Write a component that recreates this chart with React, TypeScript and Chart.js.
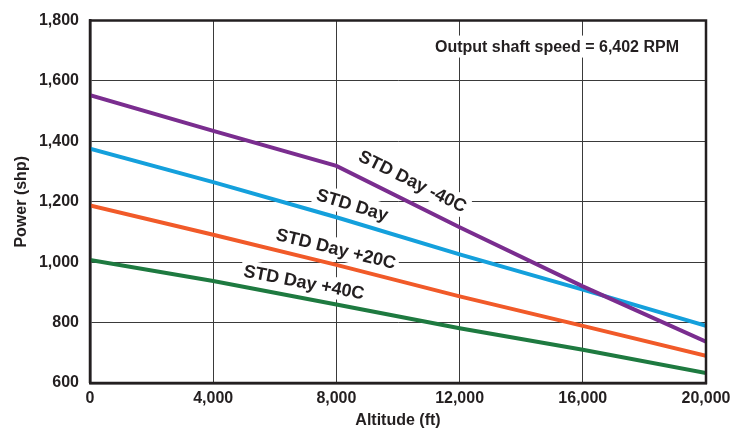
import React, { useEffect, useRef } from "react";
import { Chart, registerables } from "chart.js";

Chart.register(...registerables);

const altitudes = [0, 4000, 8000, 12000, 16000, 20000];
const stdMinus40 = [1553, 1435, 1319, 1116, 920, 737];
const stdDay = [1376, 1265, 1149, 1026, 909, 789];
const stdPlus20 = [1188, 1091, 991, 887, 789, 690];
const stdPlus40 = [1007, 938, 860, 781, 710, 633];

const seriesNames = ["STD Day -40C", "STD Day", "STD Day +20C", "STD Day +40C"];
const seriesColors = ["#7A2D8F", "#14A0DC", "#F15A29", "#1E7A40"];
// label anchor positions (data coords) for the in-plot line labels
const labelAltitudes = [10480, 8516, 7987, 6948];
const labelPowers = [1268, 1190, 1045, 934];

const annotationText = "Output shaft speed = 6,402 RPM";
const annotationAltitude = 15162;
const annotationPower = 1714;

const TEXT = "#231F20";
const FONT = '"Liberation Sans", Arial, sans-serif';

const allSeries = [stdMinus40, stdDay, stdPlus20, stdPlus40];

function segmentAngle(chart: any, series: number[], xVal: number) {
  const xs = chart.scales.x;
  const ys = chart.scales.y;
  let i = 0;
  while (i < altitudes.length - 2 && altitudes[i + 1] < xVal) i++;
  const x1 = xs.getPixelForValue(altitudes[i]);
  const x2 = xs.getPixelForValue(altitudes[i + 1]);
  const y1 = ys.getPixelForValue(series[i]);
  const y2 = ys.getPixelForValue(series[i + 1]);
  return Math.atan2(y2 - y1, x2 - x1);
}

const labelPlugin = {
  id: "lineLabels",
  beforeDatasetsDraw(chart: any) {
    const ctx = chart.ctx;
    const xs = chart.scales.x;
    const ys = chart.scales.y;
    ctx.save();
    ctx.font = `bold 18px ${FONT}`;
    ctx.textAlign = "center";
    ctx.textBaseline = "middle";
    seriesNames.forEach((name, k) => {
      const px = xs.getPixelForValue(labelAltitudes[k]);
      const py = ys.getPixelForValue(labelPowers[k]);
      const ang = segmentAngle(chart, allSeries[k], labelAltitudes[k]);
      const w = ctx.measureText(name).width;
      ctx.save();
      ctx.translate(px, py);
      ctx.rotate(ang);
      ctx.fillStyle = "#ffffff";
      ctx.fillRect(-w / 2 - 3, -11, w + 6, 22);
      ctx.fillStyle = TEXT;
      ctx.fillText(name, 0, 1);
      ctx.restore();
    });
    // annotation
    ctx.font = `bold 16px ${FONT}`;
    const ax = xs.getPixelForValue(annotationAltitude);
    const ay = ys.getPixelForValue(annotationPower);
    const aw = ctx.measureText(annotationText).width;
    ctx.fillStyle = "#ffffff";
    ctx.fillRect(ax - aw / 2 - 6, ay - 11, aw + 12, 22);
    ctx.fillStyle = TEXT;
    ctx.fillText(annotationText, ax, ay + 1);
    ctx.restore();
  },
  afterDatasetsDraw(chart: any) {
    const { left, right, top, bottom } = chart.chartArea;
    const ctx = chart.ctx;
    ctx.save();
    ctx.strokeStyle = TEXT;
    ctx.lineWidth = 2.5;
    ctx.beginPath();
    ctx.moveTo(left, bottom);
    ctx.lineTo(left, top);
    ctx.lineTo(right, top);
    ctx.lineTo(right, bottom);
    ctx.lineTo(left, bottom);
    ctx.stroke();
    ctx.restore();
  },
};

export default function App() {
  const ref = useRef<HTMLCanvasElement | null>(null);
  useEffect(() => {
    if (!ref.current) return;
    const chart = new Chart(ref.current, {
      type: "line",
      data: {
        datasets: allSeries.map((s, k) => ({
          label: seriesNames[k],
          data: altitudes.map((a, i) => ({ x: a, y: s[i] })),
          borderColor: seriesColors[k],
          backgroundColor: seriesColors[k],
          borderWidth: 4,
          pointRadius: 0,
          tension: 0,
          fill: false,
        })),
      },
      options: {
        responsive: false,
        animation: false,
        devicePixelRatio: 1,
        layout: { padding: { left: 0, right: 42, top: 15, bottom: 0 } },
        plugins: { legend: { display: false }, tooltip: { enabled: false } },
        scales: {
          x: {
            type: "linear",
            min: 0,
            max: 20000,
            ticks: {
              stepSize: 4000,
              color: TEXT,
              padding: 6,
              font: { family: FONT, size: 16, weight: "bold" },
              callback: (v: any) => Number(v).toLocaleString("en-US"),
              maxRotation: 0,
            },
            grid: { color: "#3a3a3a", lineWidth: 1, drawTicks: false },
            border: { display: true, color: TEXT, width: 2.5 },
            title: {
              display: true,
              text: "Altitude (ft)",
              color: TEXT,
              font: { family: FONT, size: 16, weight: "bold" },
              padding: { top: 0, bottom: 1 },
            },
            afterFit: (s: any) => {
              s.height = 48;
            },
          },
          y: {
            min: 600,
            max: 1800,
            ticks: {
              stepSize: 200,
              color: TEXT,
              padding: 11,
              font: { family: FONT, size: 16, weight: "bold" },
              callback: (v: any) => Number(v).toLocaleString("en-US"),
            },
            grid: { color: "#3a3a3a", lineWidth: 1, drawTicks: false },
            border: { display: true, color: TEXT, width: 2.5 },
            title: {
              display: true,
              text: "Power (shp)",
              color: TEXT,
              font: { family: FONT, size: 16, weight: "bold" },
              padding: { top: 12, bottom: 0 },
            },
            afterFit: (s: any) => {
              s.width = 90;
            },
          },
        },
      },
      plugins: [labelPlugin],
    });
    return () => chart.destroy();
  }, []);
  return (
    <div style={{ position: "absolute", left: 0, top: 0, width: 748, height: 431 }}>
      <canvas ref={ref} width={748} height={431} />
    </div>
  );
}
